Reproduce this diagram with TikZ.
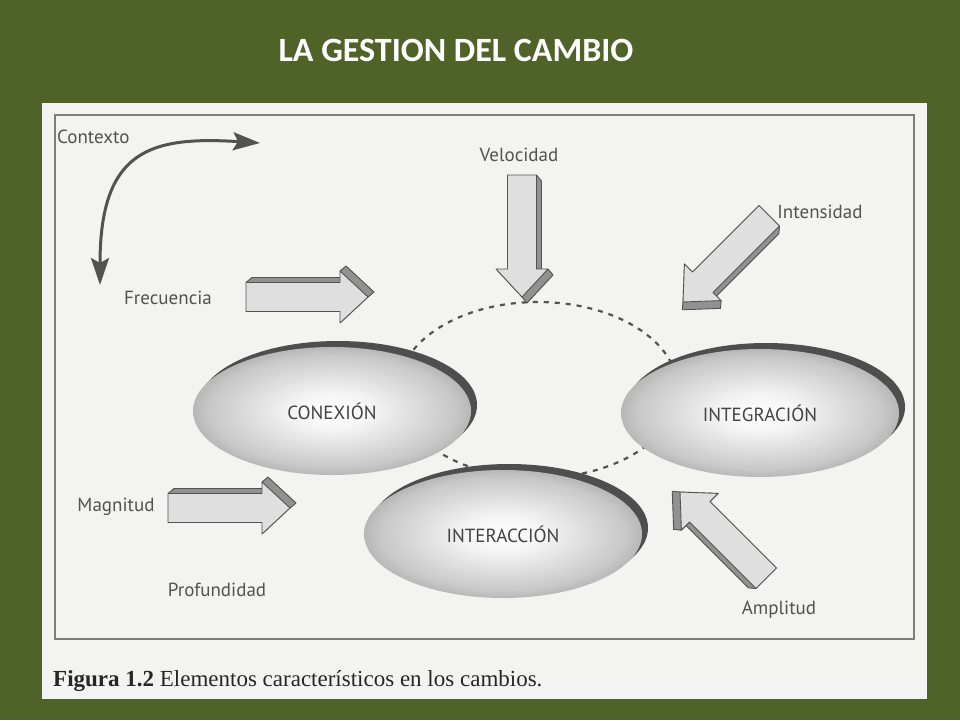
\documentclass[tikz,border=0pt]{standalone}
\usepackage{fontspec}
\setmainfont{Liberation Serif}
\newfontfamily\labfont{PT Sans}
\newfontfamily\titfont{Carlito}
\usepackage{tikz}
\usetikzlibrary{arrows.meta,shapes.geometric}
\pgfdeclarelayer{bg}
\pgfsetlayers{bg,main}

\definecolor{olive}{RGB}{79,98,40}
\definecolor{paper}{RGB}{243,244,242}
\definecolor{ink}{RGB}{82,82,82}
\definecolor{discedge}{RGB}{128,128,128}
\definecolor{discmid}{RGB}{200,200,200}
\definecolor{rimcol}{RGB}{78,78,78}
\definecolor{faceg}{RGB}{222,223,222}
\definecolor{sideg}{RGB}{145,145,145}
\pgfdeclareradialshading{discshade}{\pgfpoint{0bp}{0bp}}{color(0bp)=(white); color(7bp)=(white!96!black); color(22bp)=(discmid); color(35bp)=(discedge); color(50bp)=(discedge)}

\def\arrL{122}\def\arrW{14.5}\def\arrH{26}\def\arrHL{28}
\tikzset{
  lab/.style={text=ink, font=\labfont\fontsize{19}{22}\selectfont, inner sep=0pt},
  disc/.style={ellipse, shading=discshade, draw=none, minimum width=278pt, minimum height=128pt,
    text=ink!80!black, font=\labfont\fontsize{19}{22}\selectfont},
  rim/.style={fill=rimcol},
  arrline/.style={draw=ink, line width=0.9pt, line join=round},
  ctxarr/.style={draw=ink, line width=3pt, {Stealth[length=27pt,width=18pt,inset=5pt]}-{Stealth[length=27pt,width=18pt,inset=5pt]}},
  dashring/.style={draw=ink, line width=2.2pt, dash pattern=on 5pt off 6pt},
  pics/blockarrow/.style={code={
    \foreach \xa/\ya/\xb/\yb in {-\arrL/-\arrW/-\arrHL/-\arrW, -\arrHL/-\arrW/-\arrHL/-\arrH,
        -\arrHL/-\arrH/0/0, 0/0/-\arrHL/\arrH, -\arrHL/\arrH/-\arrHL/\arrW,
        -\arrHL/\arrW/-\arrL/\arrW, -\arrL/\arrW/-\arrL/-\arrW}
      \fill[sideg] (\xa,\ya) -- (\xb,\yb) -- ++(6,-5) -- ([shift={(6,-5)}]\xa,\ya) -- cycle;
    \draw[arrline] (-\arrL,-\arrW) -- ++(6,-5) -- ++(\arrL-\arrHL,0) -- (-\arrHL,-\arrW);
    \draw[arrline] (-\arrHL,-\arrH) -- ++(6,-5) -- (6,-5) -- (0,0);
    \draw[arrline, fill=faceg] (-\arrL,-\arrW) -- (-\arrHL,-\arrW) -- (-\arrHL,-\arrH) -- (0,0)
      -- (-\arrHL,\arrH) -- (-\arrHL,\arrW) -- (-\arrL,\arrW) -- cycle;
  }}
}

\begin{document}
\begin{tikzpicture}[x=1pt, y=-1pt]
  \useasboundingbox (0,0) rectangle (960,720);

  \node (title) [text=white, font=\titfont\bfseries\fontsize{34}{40}\selectfont] at (456,50) {LA GESTION DEL CAMBIO};

  \node (conex) [disc] at (332,411) {CONEXIÓN};
  \node (integ) [disc] at (760,413) {INTEGRACIÓN};
  \node (inter) [disc] at (503,534) {INTERACCIÓN};

  \begin{pgfonlayer}{bg}
    \fill[olive] (0,0) rectangle (960,720);
    \fill[paper] (42,103) rectangle (927,699);
    \draw[ink!75, line width=1.6pt] (55,115) rectangle (914,639);
    \draw[dashring] (538,390) ellipse [x radius=140, y radius=88];
    \path[rim] ([shift={(6,-6)}]conex.center) ellipse [x radius=139, y radius=64];
    \path[rim] ([shift={(6,-6)}]integ.center) ellipse [x radius=139, y radius=64];
    \path[rim] ([shift={(6,-6)}]inter.center) ellipse [x radius=139, y radius=64];
  \end{pgfonlayer}

  \node (ctx) [lab, anchor=west] at (57,137) {Contexto};
  \node (vel) [lab] at (519,155) {Velocidad};
  \node (int) [lab] at (820,212) {Intensidad};
  \node (frec) [lab] at (168,298) {Frecuencia};
  \node (mag) [lab] at (116,507) {Magnitud};
  \node (prof) [lab] at (217,590) {Profundidad};
  \node (amp) [lab] at (779,610) {Amplitud};

  \coordinate (ctxa) at (100,285);
  \coordinate (ctxb) at (260,143);
  \draw[ctxarr] (ctxa) .. controls (100,150) and (150,136) .. (ctxb);

  \pic (frecarr) at (368,297) {blockarrow};
  \pic (magarr) at (290,508) {blockarrow};
  \pic (velarr) [rotate=-90] at (522,297) {blockarrow};
  \pic (intarr) [rotate=225] at (683,302) {blockarrow};
  \pic (amparr) [rotate=135] at (680,492) {blockarrow};

  \node (cap) [anchor=base west, text=black!85, font=\fontsize{23}{27}\selectfont, inner sep=0pt] at (53,686)
    {\textbf{Figura 1.2} Elementos característicos en los cambios.};
\end{tikzpicture}
\end{document}
